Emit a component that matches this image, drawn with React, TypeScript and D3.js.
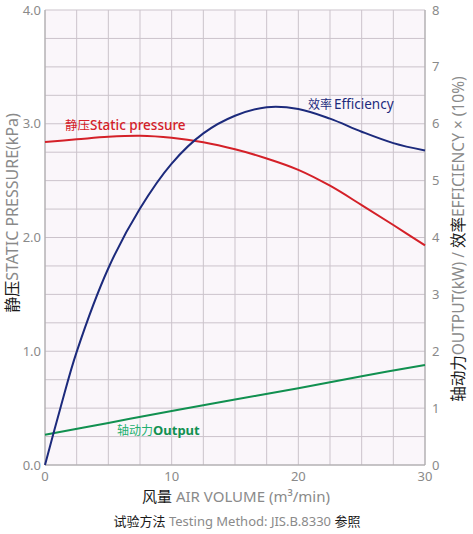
import * as d3 from "d3";

// air volume (m3/min)
const airVolume = [0, 2.5, 5, 7.5, 10, 12.5, 15, 17.5, 20, 22.5, 25, 27.5, 30];
// static pressure (kPa)
const staticPressure = [2.84, 2.863, 2.886, 2.895, 2.877, 2.837, 2.775, 2.695, 2.595, 2.455, 2.285, 2.11, 1.93];
// efficiency x 10%
const effX = [0, 1.25, 2.5, 5, 7.5, 10, 12.5, 15, 17.5, 20, 22.5, 25, 27.5, 30];
const efficiency = [0, 1.03, 1.99, 3.46, 4.51, 5.3, 5.83, 6.14, 6.29, 6.26, 6.09, 5.86, 5.66, 5.53];
// output (kW)
const outX = [0, 5, 10, 15, 20, 25, 30];
const output = [0.53, 0.74, 0.95, 1.15, 1.35, 1.56, 1.76];

const leftTicks = [0, 1, 2, 3, 4];
const rightTicks = [0, 1, 2, 3, 4, 5, 6, 7, 8];
const bottomTicks = [0, 10, 20, 30];

const W = 473;
const H = 534;
const m = { left: 45, right: 48, top: 10, bottom: 69 };
const FONT = "'Noto Sans', 'Noto Sans CJK SC', sans-serif";

export default function App() {
  const x = d3.scaleLinear().domain([0, 30]).range([m.left, W - m.right]);
  const yL = d3.scaleLinear().domain([0, 4]).range([H - m.bottom, m.top]);
  const yR = d3.scaleLinear().domain([0, 8]).range([H - m.bottom, m.top]);

  const xGrid = d3.range(0, 30.01, 2.5);
  const yGrid = d3.range(0, 4.01, 0.25);

  const line = d3.line<[number, number]>().curve(d3.curveCatmullRom.alpha(0.5));
  const pPath = line(airVolume.map((v, i) => [x(v), yL(staticPressure[i])]));
  const ePath = line(effX.map((v, i) => [x(v), yR(efficiency[i])]));
  const oPath = line(outX.map((v, i) => [x(v), yR(output[i])]));

  const x0 = x(0), x1 = x(30), yb = yL(0), yt = yL(4);
  const gray = "#8a8a8a";

  return (
    <svg width={W} height={H} style={{ position: "absolute", left: 0, top: 0, fontFamily: FONT }}>
      <rect width={W} height={H} fill="#ffffff" />
      <rect x={x0} y={yt} width={x1 - x0} height={yb - yt} fill="#faf6fa" />
      {xGrid.map((g) => (
        <line key={"vx" + g} x1={x(g)} x2={x(g)} y1={yt} y2={yb} stroke="#cbc3cb" strokeWidth={1} />
      ))}
      {yGrid.map((g) => (
        <line key={"hy" + g} x1={x0} x2={x1} y1={yL(g)} y2={yL(g)} stroke="#cbc3cb" strokeWidth={1} />
      ))}
      <line x1={x0} x2={x0} y1={yt} y2={yb} stroke="#a8a8a8" />
      <line x1={x1} x2={x1} y1={yt} y2={yb} stroke="#a8a8a8" />
      <line x1={x0} x2={x1} y1={yb} y2={yb} stroke="#a8a8a8" />

      {leftTicks.map((t) => (
        <text key={"l" + t} x={x0 - 4} y={yL(t)} dy="0.35em" textAnchor="end" fontSize={13} fill={gray}>
          {t.toFixed(1)}
        </text>
      ))}
      {rightTicks.map((t) => (
        <text key={"r" + t} x={x1 + 7} y={yR(t)} dy="0.35em" textAnchor="start" fontSize={13} fill={gray}>
          {t}
        </text>
      ))}
      {bottomTicks.map((t) => (
        <text key={"b" + t} x={x(t)} y={yb + 16} textAnchor="middle" fontSize={13} fill={gray}>
          {t}
        </text>
      ))}

      <path d={oPath ?? ""} fill="none" stroke="#119050" strokeWidth={2} />
      <path d={pPath ?? ""} fill="none" stroke="#d42028" strokeWidth={2} />
      <path d={ePath ?? ""} fill="none" stroke="#1c2a7c" strokeWidth={2} />

      <text x={65} y={130} fontSize={13.5} fill="#d42028">
        <tspan fontSize={12.5}>静压</tspan>
        <tspan fontWeight={500}>Static pressure</tspan>
      </text>
      <text x={308} y={109} fontSize={13.5} fill="#1c2a7c">
        <tspan fontSize={12}>效率</tspan>
        <tspan dx={2}>Efficiency</tspan>
      </text>
      <text x={117} y={435} fontSize={13} fill="#119050">
        <tspan fontSize={12} fill="#22b070">轴动力</tspan>
        <tspan fontWeight="bold">Output</tspan>
      </text>

      <text transform={`translate(18, 213) rotate(-90)`} textAnchor="middle" fontSize={16} fill={gray}>
        <tspan fill="#1a1a1a">静压</tspan>STATIC PRESSURE(kPa)
      </text>
      <text transform={`translate(464, 239) rotate(-90)`} textAnchor="middle" fontSize={15.5} fill={gray}>
        <tspan fill="#1a1a1a">轴动力</tspan>OUTPUT(kW) / <tspan fill="#1a1a1a">效率</tspan>EFFICIENCY × (10%)
      </text>
      <text x={236} y={502} textAnchor="middle" fontSize={15} fill={gray}>
        <tspan fill="#1a1a1a">风量</tspan> AIR VOLUME (m³/min)
      </text>
      <text x={237} y={526} textAnchor="middle" fontSize={13} fill={gray}>
        <tspan fill="#1a1a1a">试验方法</tspan> Testing Method: JIS.B.8330 <tspan fill="#1a1a1a">参照</tspan>
      </text>
    </svg>
  );
}
